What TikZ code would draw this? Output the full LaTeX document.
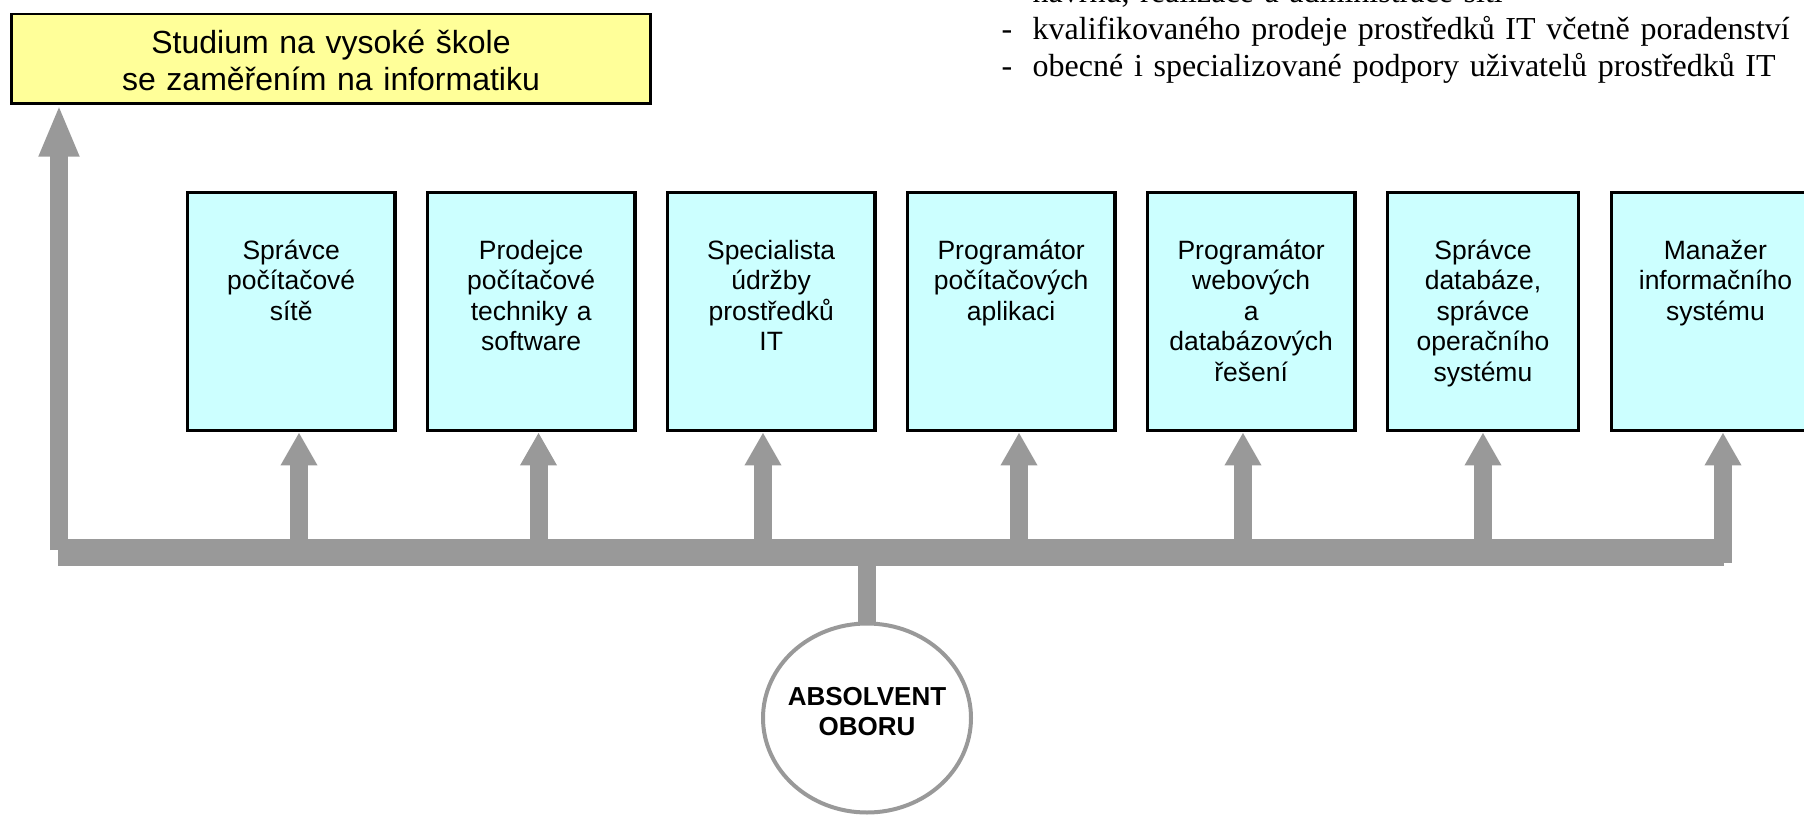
\documentclass[tikz,border=0pt]{standalone}
\usepackage{fontspec}
\setmainfont{Liberation Serif}
\setsansfont{Liberation Sans}
\usetikzlibrary{arrows.meta,calc,shapes.geometric}
\definecolor{feedgray}{HTML}{999999}
\definecolor{jobcyan}{HTML}{CCFFFF}
\definecolor{studyellow}{HTML}{FFFF99}
\tikzset{
	jobbox/.style={draw=black, line width=3.3pt, fill=jobcyan, minimum width=207.6pt, minimum height=238.4pt, inner sep=0pt, anchor=north west},
	jobtext/.style={font=\sffamily\fontsize{26.5}{30.6}\selectfont, text width=205pt, align=center, inner sep=0pt, anchor=base},
	feed/.style={draw=feedgray, line width=18pt},
	uparrow/.style={-{Triangle[length=33pt,width=34.5pt]}},
	busline/.style={draw=feedgray, line width=27pt},
}
\begin{document}
\begin{tikzpicture}[x=1pt, y=-1pt]
	\useasboundingbox (0,0) rectangle (1804,816);
	\node[draw=black, line width=2.7pt, fill=studyellow, minimum width=639.3pt, minimum height=89.3pt, inner sep=0pt, anchor=north west] (studium) at (10,12.7) {};
	\node[font=\sffamily\fontsize{32}{36.7}\selectfont, text width=620pt, align=center, inner sep=0pt, anchor=base] (studiumtext) at ($(studium.north)+(0,41.3)$) {Studium na vysoké škole\\se zaměřením na informatiku};
	\node[font=\rmfamily\fontsize{32}{36.6}\selectfont, text width=800pt, align=left, inner sep=0pt, anchor=base west] (oblasti) at (1001.5,3) {\hspace*{31pt}návrhu, realizace a administrace sítí\\
	\makebox[31pt][l]{-}kvalifikovaného prodeje prostředků IT včetně poradenství\\
	\makebox[31pt][l]{-}obecné i specializované podpory uživatelů prostředků IT};

	\node[jobbox] (spravce) at (185.7,190.7) {};
	\node[jobtext] (spravcetext) at ($(spravce.north)+(0,68.3)$) {Správce\\počítačové\\sítě};
	\node[jobbox] (prodejce) at (425.7,190.7) {};
	\node[jobtext] (prodejcetext) at ($(prodejce.north)+(0,68.3)$) {Prodejce\\počítačové\\techniky a\\software};
	\node[jobbox] (specialista) at (665.7,190.7) {};
	\node[jobtext] (specialistatext) at ($(specialista.north)+(0,68.3)$) {Specialista\\údržby\\prostředků\\IT};
	\node[jobbox] (programator) at (905.7,190.7) {};
	\node[jobtext] (programatortext) at ($(programator.north)+(0,68.3)$) {Programátor\\počítačových\\aplikaci};
	\node[jobbox] (webprogramator) at (1145.7,190.7) {};
	\node[jobtext] (webprogramatortext) at ($(webprogramator.north)+(0,68.3)$) {Programátor\\webových\\a\\databázových\\řešení};
	\node[jobbox, minimum width=190.6pt] (dbspravce) at (1386,190.7) {};
	\node[jobtext] (dbspravcetext) at ($(dbspravce.north)+(0,68.3)$) {Správce\\databáze,\\správce\\operačního\\systému};
	\node[jobbox] (manazer) at (1610,190.7) {};
	\node[jobtext] (manazertext) at ($(manazer.north)+(0,68.3)$) {Manažer\\informačního\\systému};

	\node[ellipse, draw=feedgray, line width=4pt, fill=white, minimum width=208pt, minimum height=189pt, inner sep=0pt] (absolvent) at (867,718) {};
	\node[font=\sffamily\bfseries\fontsize{26}{30.7}\selectfont, text width=200pt, align=center, inner sep=0pt, anchor=base] (absolventtext) at ($(absolvent.center)+(0,-13)$) {ABSOLVENT\\OBORU};

	\coordinate (busleft) at (58,552.5);
	\coordinate (busright) at (1724,552.5);
	\coordinate (studfoot) at (59,550);
	\coordinate (foot1) at (299,545);
	\coordinate (foot2) at (538.5,545);
	\coordinate (foot3) at (763,545);
	\coordinate (foot4) at (1019,545);
	\coordinate (foot5) at (1243,545);
	\coordinate (foot6) at (1483,545);
	\coordinate (foot7) at (1723,563);
	\coordinate (absfoot) at (867,560);

	\draw[busline] (busleft) -- (busright);
	\draw[feed, -{Triangle[length=52pt,width=37pt]}] (studfoot) -- (studfoot |- studium.south);
	\draw[feed, uparrow] (foot1) -- (foot1 |- spravce.south);
	\draw[feed, uparrow] (foot2) -- (foot2 |- prodejce.south);
	\draw[feed, uparrow] (foot3) -- (foot3 |- specialista.south);
	\draw[feed, uparrow] (foot4) -- (foot4 |- programator.south);
	\draw[feed, uparrow] (foot5) -- (foot5 |- webprogramator.south);
	\draw[feed, uparrow] (foot6) -- (foot6 |- dbspravce.south);
	\draw[feed, uparrow] (foot7) -- (foot7 |- manazer.south);
	\draw[feed] (absfoot) -- (absolvent.north);
\end{tikzpicture}
\end{document}
